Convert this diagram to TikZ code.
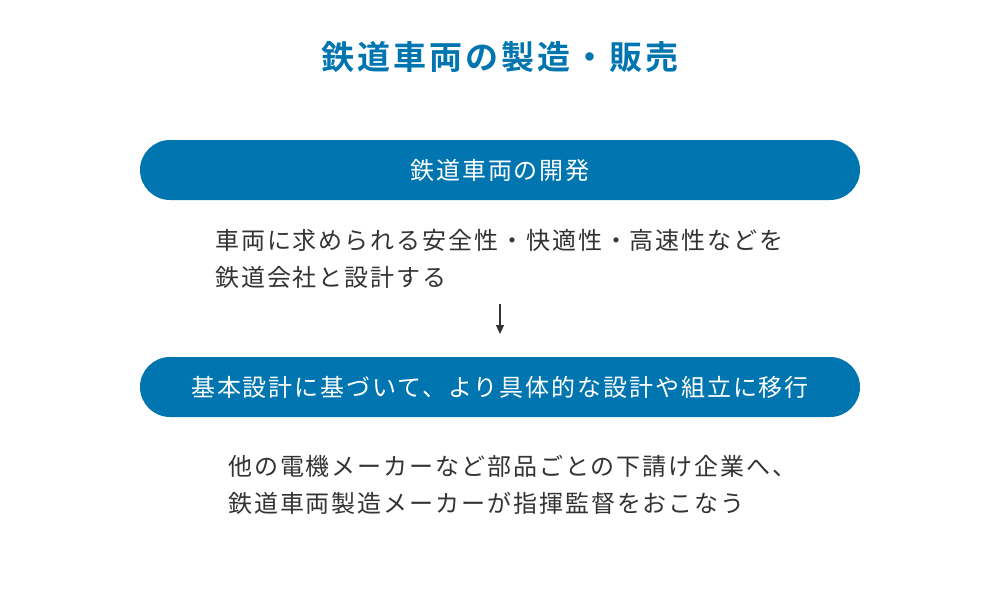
\documentclass[tikz,border=0pt]{standalone}
\usepackage{fontspec}
\usetikzlibrary{arrows.meta}
\newfontfamily\jp[LetterSpace=8]{Noto Sans CJK JP}
\newfontfamily\jpb[LetterSpace=9]{Noto Sans CJK JP Bold}
\definecolor{mainblue}{RGB}{0,117,176}
\definecolor{bodytext}{RGB}{51,51,51}
\tikzset{
  pill/.style={fill=mainblue, draw=none, rounded corners=30pt, minimum width=720pt, minimum height=60pt, inner sep=0pt, text=white, font=\jp\fontsize{24}{28}\selectfont},
  body/.style={text=bodytext, align=left, inner sep=0pt, anchor=west, font=\jp\fontsize{24}{37}\selectfont},
  title/.style={text=mainblue, inner sep=0pt, font=\jpb\fontsize{33}{40}\selectfont},
  flow/.style={draw=bodytext, line width=1.2pt, -{Triangle[width=8pt,length=9pt]}}
}
\begin{document}
\begin{tikzpicture}[x=1pt,y=-1pt]
\useasboundingbox (0,0) rectangle (1000,600);
\node[title] (t) at (500,57) {鉄道車両の製造・販売};
\node[pill] (p1) at (500,170) {鉄道車両の開発};
\node[body] (b1) at (215,258.5) {車両に求められる安全性・快適性・高速性などを\\鉄道会社と設計する};
\coordinate (a1) at (500,304);
\coordinate (a2) at (500,334);
\draw[flow] (a1) -- (a2);
\node[pill] (p2) at (500,387) {基本設計に基づいて、より具体的な設計や組立に移行};
\node[body] (b2) at (228,484.5) {他の電機メーカーなど部品ごとの下請け企業へ、\\鉄道車両製造メーカーが指揮監督をおこなう};
\end{tikzpicture}
\end{document}
